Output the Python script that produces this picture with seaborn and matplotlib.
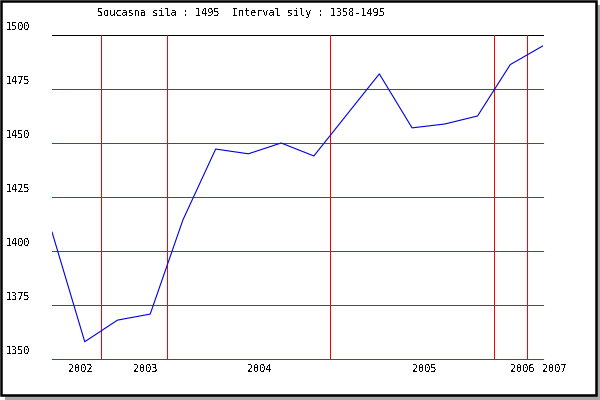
import matplotlib
matplotlib.use("Agg")
import matplotlib.pyplot as plt
from matplotlib.patches import Rectangle
from matplotlib.transforms import offset_copy, blended_transform_factory
import seaborn as sns

# data
values = [1408.8, 1358, 1368, 1370.8, 1414.4, 1447.2, 1445, 1450, 1444,
          1463, 1482, 1457, 1458.8, 1462.5, 1486.3, 1495]
points = list(range(len(values)))
y_ticks = [1350, 1375, 1400, 1425, 1450, 1475, 1500]
year_labels = ["2002", "2003", "2004", "2005", "2006", "2007"]
year_pos = [0.86, 2.85, 6.34, 11.39, 14.36, 15.34]
dividers = [1.5, 3.5, 8.5, 13.5, 14.5]
title = "Soucasna sila : 1495  Interval sily : 1358-1495"

sns.set_style("white")
plt.rcParams["font.family"] = ["DejaVu Sans Mono", "DejaVu Sans"]
plt.rcParams["text.color"] = "black"
plt.rcParams["text.antialiased"] = False
FS = 7.3
PX = 0.72  # one pixel at 100 dpi

fig = plt.figure(figsize=(6, 4), dpi=100)

# shadow + black frame
fig.add_artist(Rectangle((5 / 600, 0), 595 / 600, 395 / 400,
                         transform=fig.transFigure, facecolor="#a8a8a8",
                         edgecolor="none", zorder=-10))
fig.add_artist(Rectangle((1 / 600, 5 / 400), 595 / 600, 394 / 400,
                         transform=fig.transFigure, facecolor="white",
                         edgecolor="black", lw=1.8, zorder=-9))

ax = fig.add_axes([52 / 600, 41 / 400, 491 / 600, 324 / 400])
ax.patch.set_alpha(0)

# grid
for y in y_ticks[:-1]:
    ax.axhline(y, color="red", lw=PX, zorder=1, clip_on=False, antialiased=False)
ax.axhline(y_ticks[-1], color="black", lw=PX, zorder=1, clip_on=False,
           antialiased=False)
for x in dividers:
    ax.axvline(x, color="red", lw=PX, zorder=1, antialiased=False)

sns.lineplot(x=points, y=values, color="#0000dd", lw=0.8, ax=ax, zorder=3)

ax.set_xlim(0, len(values) - 1)
ax.set_ylim(1350, 1500)
ax.set_xticks([])
ax.set_yticks([])
ax.set_xlabel("")
ax.set_ylabel("")
for s in ax.spines.values():
    s.set_visible(False)

# y labels, left aligned near the frame, sitting just above their lines
ytr = offset_copy(blended_transform_factory(fig.transFigure, ax.transData),
                  fig=fig, x=0, y=3, units="dots")
for y in y_ticks:
    ax.text(6 / 600, y, str(y), transform=ytr, ha="left", va="bottom",
            fontsize=FS, clip_on=False)

# year labels under the bottom line
xtr = offset_copy(ax.get_xaxis_transform(), fig=fig, x=0, y=-5, units="dots")
for x, lab in zip(year_pos, year_labels):
    ax.text(x, 0, lab, transform=xtr, ha="center", va="top",
            fontsize=FS, clip_on=False)

fig.text(241 / 600, 1 - 13 / 400, title, ha="center", va="center", fontsize=FS)

fig.savefig("out.png", dpi=100)
